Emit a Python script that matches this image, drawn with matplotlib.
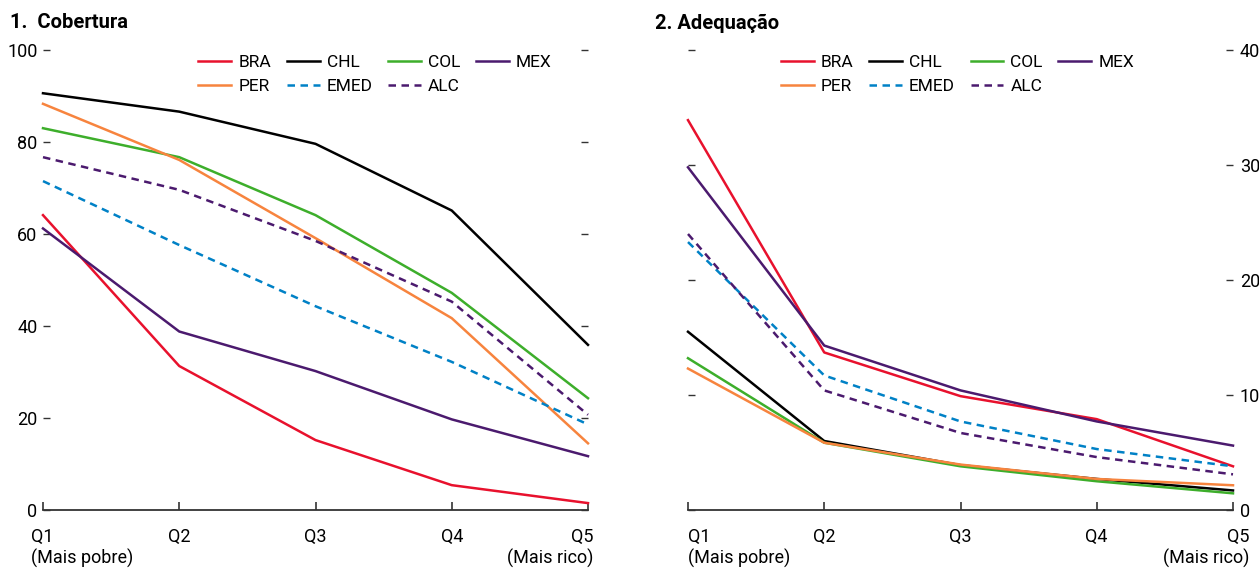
import matplotlib
matplotlib.use("Agg")
import matplotlib.pyplot as plt
import matplotlib.transforms as mtransforms

plt.rcParams['font.family'] = ['Roboto', 'DejaVu Sans']

quintis = ["Q1\n(Mais pobre)", "Q2", "Q3", "Q4", "Q5\n(Mais rico)"]
x = [0, 1, 2, 3, 4]

# painel 1: cobertura (%)
cob_bra = [64.1, 31.3, 15.2, 5.4, 1.5]
cob_chl = [90.6, 86.6, 79.6, 65.1, 35.9]
cob_col = [83.0, 76.7, 64.1, 47.2, 24.3]
cob_mex = [61.2, 38.8, 30.2, 19.7, 11.7]
cob_per = [88.3, 76.1, 59.1, 41.7, 14.5]
cob_emed = [71.5, 57.6, 44.3, 32.2, 18.6]
cob_alc = [76.7, 69.6, 58.5, 45.3, 20.7]

# painel 2: adequação (%)
ade_bra = [33.9, 13.7, 9.9, 7.9, 3.8]
ade_chl = [15.5, 6.0, 3.9, 2.7, 1.7]
ade_col = [13.2, 5.85, 3.8, 2.5, 1.45]
ade_mex = [29.8, 14.3, 10.4, 7.7, 5.6]
ade_per = [12.3, 5.85, 3.95, 2.7, 2.15]
ade_emed = [23.3, 11.7, 7.7, 5.3, 3.8]
ade_alc = [24.0, 10.4, 6.7, 4.6, 3.1]

nomes = ["BRA", "CHL", "COL", "MEX", "PER", "EMED", "ALC"]
cores = ["#E8112D", "#000000", "#3DAE2B", "#4B1A6E", "#F7843E", "#0081C6", "#4B1A6E"]
estilos = ["-", "-", "-", "-", "-", "--", "--"]

fig = plt.figure(figsize=(12.59, 5.68), dpi=100)
ax1 = fig.add_axes([43 / 1259, 58 / 568, 545 / 1259, 460 / 568])
ax2 = fig.add_axes([688 / 1259, 58 / 568, 545 / 1259, 460 / 568])


def desenha(ax, series, ymax, passo, ancora):
    linhas = []
    for nome, vals, cor, ls in zip(nomes, series, cores, estilos):
        l, = ax.plot(x, vals, color=cor, ls=ls, lw=1.8, label=nome, clip_on=False,
                     dashes=(3.0, 2.2) if ls == "--" else (None, None))
        linhas.append(l)
    ax.set_xlim(0, 4)
    ax.set_ylim(0, ymax)
    ax.set_yticks(range(0, ymax + 1, passo))
    ax.set_xticks(x)
    ax.set_xticklabels(quintis, fontsize=13, linespacing=1.2)
    for s in ["top", "left", "right"]:
        ax.spines[s].set_visible(False)
    ax.spines["bottom"].set_color("#333333")
    ax.spines["bottom"].set_linewidth(1.3)
    ax.tick_params(axis="x", direction="in", length=6, width=1.2, color="#333333", pad=13)
    ax.tick_params(axis="y", direction="in", length=5, width=1.0, color="#333333",
                   left=True, right=True, labelsize=13)
    labs = ax.get_xticklabels()
    labs[0].set_ha("left")
    labs[-1].set_ha("right")
    # legenda em linhas: BRA CHL COL MEX / PER EMED ALC
    ordem = [0, 4, 1, 5, 2, 6, 3]
    ax.legend([linhas[i] for i in ordem], [nomes[i] for i in ordem], ncol=4,
              loc="upper left", bbox_to_anchor=(0.285 if ancora else 0.17, 0.99), frameon=False,
              fontsize=12.5, handlelength=1.9, handletextpad=0.4, columnspacing=0.9,
              labelspacing=0.5, borderaxespad=0.0, borderpad=0.0)
    return labs


labs1 = desenha(ax1, [cob_bra, cob_chl, cob_col, cob_mex, cob_per, cob_emed, cob_alc],
                100, 20, True)
ax1.tick_params(axis="y", labelleft=True, labelright=False, pad=4)

labs2 = desenha(ax2, [ade_bra, ade_chl, ade_col, ade_mex, ade_per, ade_emed, ade_alc],
                40, 10, False)
ax2.tick_params(axis="y", labelleft=False, labelright=True, pad=5)

fig.text(10 / 1259, 1 - 23 / 568, "1.  Cobertura", fontsize=14.5, fontweight="bold", va="center")
fig.text(655 / 1259, 1 - 23 / 568, "2. Adequação", fontsize=14.5, fontweight="bold", va="center")

# pequenos ajustes de posição dos rótulos extremos
labs1[0].set_transform(labs1[0].get_transform() + mtransforms.ScaledTranslation(-12 / 100, 0, fig.dpi_scale_trans))
labs1[-1].set_transform(labs1[-1].get_transform() + mtransforms.ScaledTranslation(5 / 100, 0, fig.dpi_scale_trans))
labs2[-1].set_transform(labs2[-1].get_transform() + mtransforms.ScaledTranslation(16 / 100, 0, fig.dpi_scale_trans))

fig.savefig("out.png", dpi=100)
